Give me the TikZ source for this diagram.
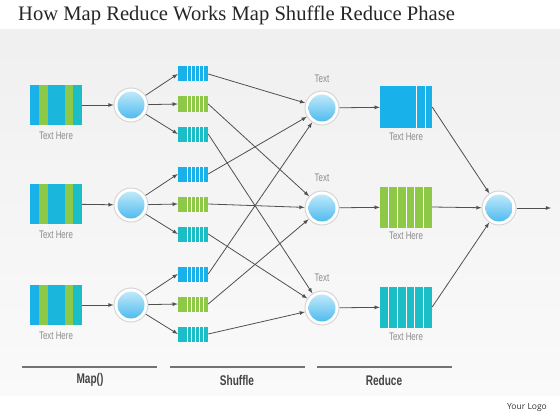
\documentclass[tikz,border=0pt]{standalone}
\usepackage{fontspec}
\setmainfont{Liberation Serif}
\newfontfamily\narrowfont[FakeStretch=0.72]{Liberation Sans}
\newfontfamily\logofont{Open Sans}
\usepackage{xcolor}
\usepackage{tikz}
\definecolor{mrblue}{HTML}{19B1EA}
\definecolor{mrgreen}{HTML}{8DC847}
\definecolor{mrteal}{HTML}{1BBDC6}
\definecolor{ballhi}{HTML}{CDEFFC}
\definecolor{balllo}{HTML}{42B5EC}
\definecolor{wire}{HTML}{505050}
\definecolor{lblgray}{HTML}{8C8C8C}
\definecolor{phasegray}{HTML}{444444}
\tikzset{
  wire/.style={draw=wire, line width=0.8pt, -latex},
  ball/.style={circle, minimum size=34pt, inner sep=0pt, fill=white,
    draw=black!16, line width=1pt,
    path picture={\shade[top color=ballhi, bottom color=balllo]
      (path picture bounding box.center) circle (13.5pt);}},
  inbox/.style={minimum width=52pt, minimum height=40pt, inner sep=0pt,
    path picture={
      \fill[mrblue] (path picture bounding box.south west) rectangle ([xshift=9pt]path picture bounding box.north west);
      \fill[mrgreen] ([xshift=9pt]path picture bounding box.south west) rectangle ([xshift=18pt]path picture bounding box.north west);
      \fill[mrblue!60!mrteal] ([xshift=18pt]path picture bounding box.south west) rectangle ([xshift=35pt]path picture bounding box.north west);
      \fill[mrgreen] ([xshift=35pt]path picture bounding box.south west) rectangle ([xshift=43pt]path picture bounding box.north west);
      \fill[mrteal] ([xshift=43pt]path picture bounding box.south west) rectangle (path picture bounding box.north east);}},
  sbox/.style={minimum width=30pt, minimum height=15pt, inner sep=0pt, fill=#1,
    path picture={\foreach \i in {9,13,17,21,25}
      \draw[white, line width=0.7pt] ([xshift=\i pt]path picture bounding box.south west) -- ([xshift=\i pt]path picture bounding box.north west);}},
  rbox/.style={minimum width=52pt, minimum height=41pt, inner sep=0pt, fill=#1,
    path picture={\foreach \i in {8.7,17.3,26,34.7,43.3}
      \draw[white, line width=0.7pt] ([xshift=\i pt]path picture bounding box.south west) -- ([xshift=\i pt]path picture bounding box.north west);}},
  rboxblue/.style={minimum width=52pt, minimum height=41pt, inner sep=0pt, fill=mrblue,
    path picture={\foreach \i in {36,45}
      \draw[white, line width=0.7pt] ([xshift=\i pt]path picture bounding box.south west) -- ([xshift=\i pt]path picture bounding box.north west);}},
  lbl/.style={text=lblgray, font=\narrowfont\fontsize{11}{13}\selectfont, inner sep=0pt},
  phase/.style={text=phasegray, font=\narrowfont\bfseries\fontsize{14}{16}\selectfont, inner sep=0pt},
  phaseline/.style={draw=black!55, line width=1.2pt}
}

\begin{document}
\begin{tikzpicture}[x=1pt,y=-1pt]
  \useasboundingbox (0,0) rectangle (560,420);
  \fill[white] (0,0) rectangle (560,420);
  \shade[top color=black!6, bottom color=black!2] (0,30) rectangle (560,395);
  \node[anchor=west, inner sep=0pt, text=black!85] (title) at (18,15)
    {\fontsize{20.6}{24}\selectfont How Map Reduce Works Map Shuffle Reduce Phase};

  % input splits
  \node[inbox] (in1) at (56,105) {};
  \node[inbox] (in2) at (56,204) {};
  \node[inbox] (in3) at (56,305) {};
  \node[lbl, anchor=north] (tin1) at (56,132) {Text Here};
  \node[lbl, anchor=north] (tin2) at (56,231) {Text Here};
  \node[lbl, anchor=north] (tin3) at (56,332) {Text Here};

  % mappers
  \node[ball] (m1) at (131,105) {};
  \node[ball] (m2) at (131,205) {};
  \node[ball] (m3) at (131,305) {};

  % shuffle buckets
  \node[sbox=mrblue] (s1b) at (193,74) {};
  \node[sbox=mrgreen] (s1g) at (193,104) {};
  \node[sbox=mrteal] (s1t) at (193,134) {};
  \node[sbox=mrblue] (s2b) at (193,174) {};
  \node[sbox=mrgreen] (s2g) at (193,204) {};
  \node[sbox=mrteal] (s2t) at (193,234) {};
  \node[sbox=mrblue] (s3b) at (193,274) {};
  \node[sbox=mrgreen] (s3g) at (193,304) {};
  \node[sbox=mrteal] (s3t) at (193,334) {};

  % reducers
  \node[ball] (r1) at (322,108) {};
  \node[ball] (r2) at (322,208) {};
  \node[ball] (r3) at (322,308) {};
  \node[lbl] (tr1) at (322,79) {Text};
  \node[lbl] (tr2) at (322,178) {Text};
  \node[lbl] (tr3) at (322,278) {Text};

  % outputs
  \node[rboxblue] (o1) at (406,107) {};
  \node[rbox=mrgreen] (o2) at (406,207) {};
  \node[rbox=mrteal] (o3) at (406,307) {};
  \node[lbl, anchor=north] (to1) at (406,133) {Text Here};
  \node[lbl, anchor=north] (to2) at (406,232) {Text Here};
  \node[lbl, anchor=north] (to3) at (406,333) {Text Here};

  \node[ball] (fin) at (499,208) {};
  \coordinate (end) at (551,208);

  \draw[wire] (in1) -- (m1);
  \draw[wire] (in2) -- (m2);
  \draw[wire] (in3) -- (m3);
  \draw[wire] (m1) -- (s1b.west);
  \draw[wire] (m1) -- (s1g.west);
  \draw[wire] (m1) -- (s1t.west);
  \draw[wire] (m2) -- (s2b.west);
  \draw[wire] (m2) -- (s2g.west);
  \draw[wire] (m2) -- (s2t.west);
  \draw[wire] (m3) -- (s3b.west);
  \draw[wire] (m3) -- (s3g.west);
  \draw[wire] (m3) -- (s3t.west);
  \draw[wire] (s1b.east) -- (r1);
  \draw[wire] (s2b.east) -- (r1);
  \draw[wire] (s3b.east) -- (r1);
  \draw[wire] (s1g.east) -- (r2);
  \draw[wire] (s2g.east) -- (r2);
  \draw[wire] (s3g.east) -- (r2);
  \draw[wire] (s1t.east) -- (r3);
  \draw[wire] (s2t.east) -- (r3);
  \draw[wire] (s3t.east) -- (r3);
  \draw[wire] (r1) -- (o1);
  \draw[wire] (r2) -- (o2);
  \draw[wire] (r3) -- (o3);
  \draw[wire] (o1.east) -- (fin);
  \draw[wire] (o2.east) -- (fin);
  \draw[wire] (o3.east) -- (fin);
  \draw[wire] (fin) -- (end);

  % phases
  \draw[phaseline] (22,367) -- (157,367);
  \draw[phaseline] (170,367) -- (305,367);
  \draw[phaseline] (317,367) -- (452,367);
  \node[phase] (pmap) at (90,380) {Map()};
  \node[phase] (pshuffle) at (237,380) {Shuffle};
  \node[phase] (preduce) at (384,380) {Reduce};

  \node[inner sep=0pt, font=\logofont\fontsize{8.5}{10}\selectfont, text=black!80] (logo) at (527,407) {Your Logo};
\end{tikzpicture}
\end{document}
